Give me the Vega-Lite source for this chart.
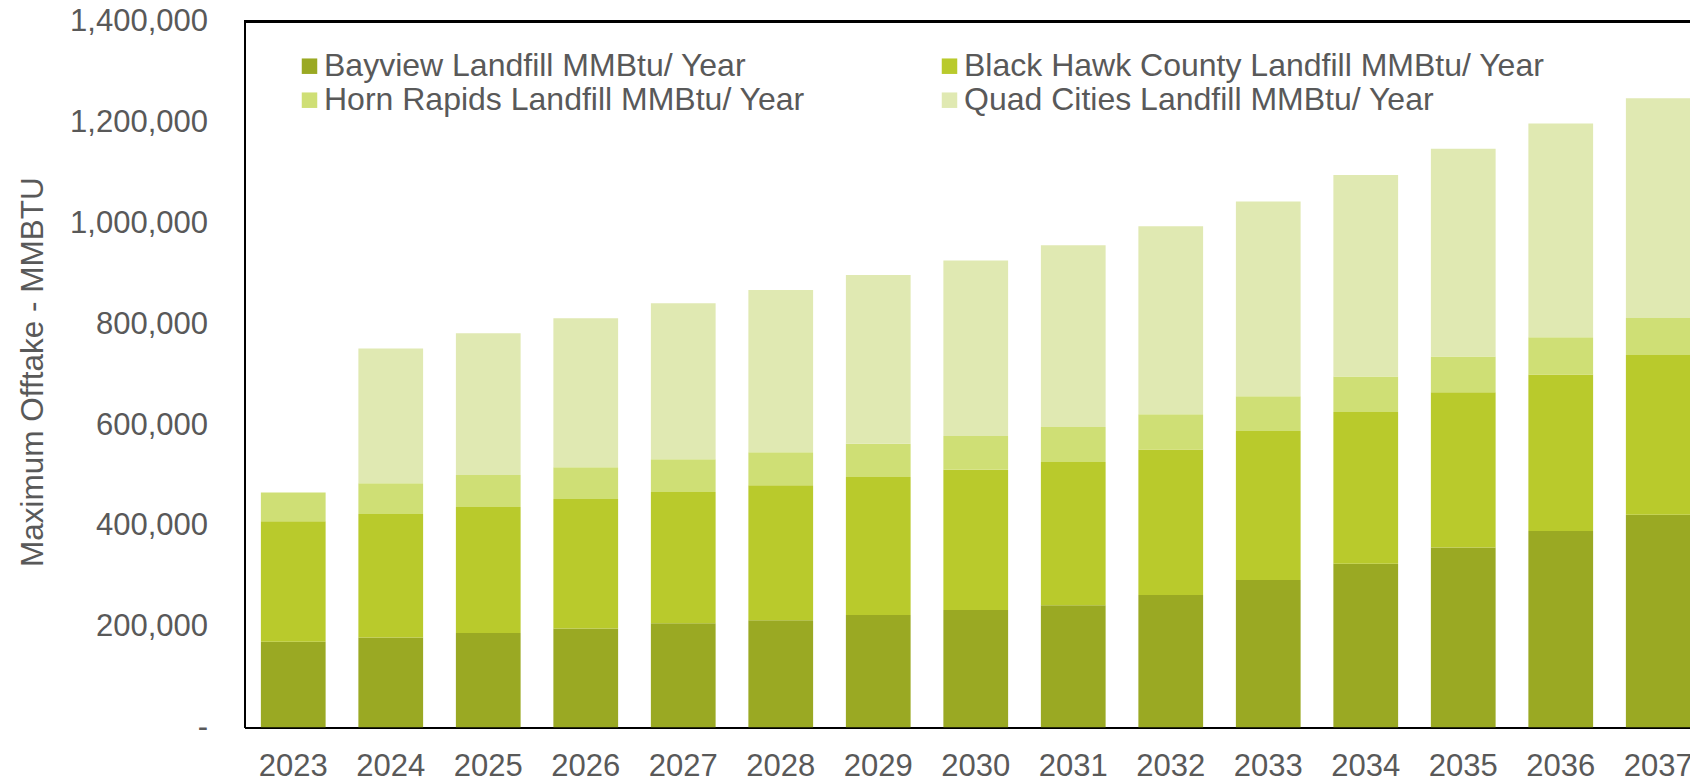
{
  "$schema": "https://vega.github.io/schema/vega-lite/v6.json",
  "autosize": {"type": "none"},
  "padding": {"left": 244.5, "top": 21.6, "right": 0, "bottom": 51.4},
  "width": 1445.5,
  "height": 706,
  "background": "white",
  "config": {
    "view": {"stroke": null},
    "font": "Liberation Sans",
    "axis": {"labelFont": "Liberation Sans", "titleFont": "Liberation Sans", "labelColor": "#595959", "titleColor": "#595959"},
    "legend": {"labelFont": "Liberation Sans", "labelColor": "#595959"}
  },
  "data": {
    "values": [
      {"Year": "2023", "Source": "Bayview Landfill MMBtu/ Year", "MMBtu": 170000},
      {"Year": "2023", "Source": "Black Hawk County Landfill MMBtu/ Year", "MMBtu": 239000},
      {"Year": "2023", "Source": "Horn Rapids Landfill MMBtu/ Year", "MMBtu": 57000},
      {"Year": "2023", "Source": "Quad Cities Landfill MMBtu/ Year", "MMBtu": 0},
      {"Year": "2024", "Source": "Bayview Landfill MMBtu/ Year", "MMBtu": 178500},
      {"Year": "2024", "Source": "Black Hawk County Landfill MMBtu/ Year", "MMBtu": 245000},
      {"Year": "2024", "Source": "Horn Rapids Landfill MMBtu/ Year", "MMBtu": 61000},
      {"Year": "2024", "Source": "Quad Cities Landfill MMBtu/ Year", "MMBtu": 267500},
      {"Year": "2025", "Source": "Bayview Landfill MMBtu/ Year", "MMBtu": 187600},
      {"Year": "2025", "Source": "Black Hawk County Landfill MMBtu/ Year", "MMBtu": 249900},
      {"Year": "2025", "Source": "Horn Rapids Landfill MMBtu/ Year", "MMBtu": 63500},
      {"Year": "2025", "Source": "Quad Cities Landfill MMBtu/ Year", "MMBtu": 281000},
      {"Year": "2026", "Source": "Bayview Landfill MMBtu/ Year", "MMBtu": 196300},
      {"Year": "2026", "Source": "Black Hawk County Landfill MMBtu/ Year", "MMBtu": 257000},
      {"Year": "2026", "Source": "Horn Rapids Landfill MMBtu/ Year", "MMBtu": 62900},
      {"Year": "2026", "Source": "Quad Cities Landfill MMBtu/ Year", "MMBtu": 295500},
      {"Year": "2027", "Source": "Bayview Landfill MMBtu/ Year", "MMBtu": 206800},
      {"Year": "2027", "Source": "Black Hawk County Landfill MMBtu/ Year", "MMBtu": 260400},
      {"Year": "2027", "Source": "Horn Rapids Landfill MMBtu/ Year", "MMBtu": 64800},
      {"Year": "2027", "Source": "Quad Cities Landfill MMBtu/ Year", "MMBtu": 309400},
      {"Year": "2028", "Source": "Bayview Landfill MMBtu/ Year", "MMBtu": 212900},
      {"Year": "2028", "Source": "Black Hawk County Landfill MMBtu/ Year", "MMBtu": 267800},
      {"Year": "2028", "Source": "Horn Rapids Landfill MMBtu/ Year", "MMBtu": 65300},
      {"Year": "2028", "Source": "Quad Cities Landfill MMBtu/ Year", "MMBtu": 322000},
      {"Year": "2029", "Source": "Bayview Landfill MMBtu/ Year", "MMBtu": 223300},
      {"Year": "2029", "Source": "Black Hawk County Landfill MMBtu/ Year", "MMBtu": 273400},
      {"Year": "2029", "Source": "Horn Rapids Landfill MMBtu/ Year", "MMBtu": 66000},
      {"Year": "2029", "Source": "Quad Cities Landfill MMBtu/ Year", "MMBtu": 334600},
      {"Year": "2030", "Source": "Bayview Landfill MMBtu/ Year", "MMBtu": 233000},
      {"Year": "2030", "Source": "Black Hawk County Landfill MMBtu/ Year", "MMBtu": 278300},
      {"Year": "2030", "Source": "Horn Rapids Landfill MMBtu/ Year", "MMBtu": 66700},
      {"Year": "2030", "Source": "Quad Cities Landfill MMBtu/ Year", "MMBtu": 348500},
      {"Year": "2031", "Source": "Bayview Landfill MMBtu/ Year", "MMBtu": 242800},
      {"Year": "2031", "Source": "Black Hawk County Landfill MMBtu/ Year", "MMBtu": 283800},
      {"Year": "2031", "Source": "Horn Rapids Landfill MMBtu/ Year", "MMBtu": 69500},
      {"Year": "2031", "Source": "Quad Cities Landfill MMBtu/ Year", "MMBtu": 360300},
      {"Year": "2032", "Source": "Bayview Landfill MMBtu/ Year", "MMBtu": 262900},
      {"Year": "2032", "Source": "Black Hawk County Landfill MMBtu/ Year", "MMBtu": 288700},
      {"Year": "2032", "Source": "Horn Rapids Landfill MMBtu/ Year", "MMBtu": 69600},
      {"Year": "2032", "Source": "Quad Cities Landfill MMBtu/ Year", "MMBtu": 372800},
      {"Year": "2033", "Source": "Bayview Landfill MMBtu/ Year", "MMBtu": 292500},
      {"Year": "2033", "Source": "Black Hawk County Landfill MMBtu/ Year", "MMBtu": 295500},
      {"Year": "2033", "Source": "Horn Rapids Landfill MMBtu/ Year", "MMBtu": 69000},
      {"Year": "2033", "Source": "Quad Cities Landfill MMBtu/ Year", "MMBtu": 386500},
      {"Year": "2034", "Source": "Bayview Landfill MMBtu/ Year", "MMBtu": 325000},
      {"Year": "2034", "Source": "Black Hawk County Landfill MMBtu/ Year", "MMBtu": 301000},
      {"Year": "2034", "Source": "Horn Rapids Landfill MMBtu/ Year", "MMBtu": 70000},
      {"Year": "2034", "Source": "Quad Cities Landfill MMBtu/ Year", "MMBtu": 400000},
      {"Year": "2035", "Source": "Bayview Landfill MMBtu/ Year", "MMBtu": 357000},
      {"Year": "2035", "Source": "Black Hawk County Landfill MMBtu/ Year", "MMBtu": 308000},
      {"Year": "2035", "Source": "Horn Rapids Landfill MMBtu/ Year", "MMBtu": 71000},
      {"Year": "2035", "Source": "Quad Cities Landfill MMBtu/ Year", "MMBtu": 412000},
      {"Year": "2036", "Source": "Bayview Landfill MMBtu/ Year", "MMBtu": 390000},
      {"Year": "2036", "Source": "Black Hawk County Landfill MMBtu/ Year", "MMBtu": 310000},
      {"Year": "2036", "Source": "Horn Rapids Landfill MMBtu/ Year", "MMBtu": 74000},
      {"Year": "2036", "Source": "Quad Cities Landfill MMBtu/ Year", "MMBtu": 424000},
      {"Year": "2037", "Source": "Bayview Landfill MMBtu/ Year", "MMBtu": 422000},
      {"Year": "2037", "Source": "Black Hawk County Landfill MMBtu/ Year", "MMBtu": 317000},
      {"Year": "2037", "Source": "Horn Rapids Landfill MMBtu/ Year", "MMBtu": 73000},
      {"Year": "2037", "Source": "Quad Cities Landfill MMBtu/ Year", "MMBtu": 436000}
    ]
  },
  "layer": [
    {
      "mark": {"type": "bar", "clip": true},
      "encoding": {
        "x": {
          "field": "Year", "type": "ordinal",
          "scale": {"range": [0, 1462.5], "paddingInner": 0.336, "paddingOuter": 0.168},
          "axis": {
            "title": null, "labelAngle": 0, "labelFontSize": 31, "labelPadding": 24,
            "ticks": false, "tickSize": 0, "domain": true, "domainColor": "#000000", "domainWidth": 2,
            "labelOverlap": false
          }
        },
        "y": {
          "field": "MMBtu", "type": "quantitative", "stack": "zero",
          "scale": {"domain": [0, 1400000], "nice": false},
          "axis": {
            "title": "Maximum Offtake - MMBTU", "titleFontSize": 31.5, "titleFontWeight": "normal",
            "titleAngle": -90, "titleAlign": "center", "titleBaseline": "alphabetic",
            "titleX": -202.5, "titleY": 350,
            "values": [0, 200000, 400000, 600000, 800000, 1000000, 1200000, 1400000],
            "labelExpr": "datum.value === 0 ? '-' : format(datum.value, ',')",
            "labelFontSize": 31, "labelPadding": 37, "ticks": false, "tickSize": 0,
            "grid": false, "domain": true, "domainColor": "#000000", "domainWidth": 2
          }
        },
        "color": {
          "field": "Source", "type": "nominal",
          "sort": ["Bayview Landfill MMBtu/ Year", "Black Hawk County Landfill MMBtu/ Year", "Horn Rapids Landfill MMBtu/ Year", "Quad Cities Landfill MMBtu/ Year"],
          "scale": {
            "domain": ["Bayview Landfill MMBtu/ Year", "Black Hawk County Landfill MMBtu/ Year", "Horn Rapids Landfill MMBtu/ Year", "Quad Cities Landfill MMBtu/ Year"],
            "range": ["#9AA923", "#B9CA2C", "#CFDF75", "#E0E9B2"]
          },
          "legend": {
            "title": null, "orient": "none", "legendX": 49, "legendY": 28.6,
            "direction": "horizontal", "columns": 2, "columnPadding": 128, "rowPadding": 2,
            "symbolType": "square", "symbolSize": 240, "symbolStrokeWidth": 0,
            "labelFontSize": 32, "labelOffset": -1.5, "padding": 0, "labelLimit": 1000
          }
        },
        "order": {"field": "Source", "sort": "ascending"}
      }
    },
    {
      "mark": {"type": "rule", "color": "#000000", "strokeWidth": 2},
      "encoding": {"y": {"datum": 1400000}}
    }
  ]
}
